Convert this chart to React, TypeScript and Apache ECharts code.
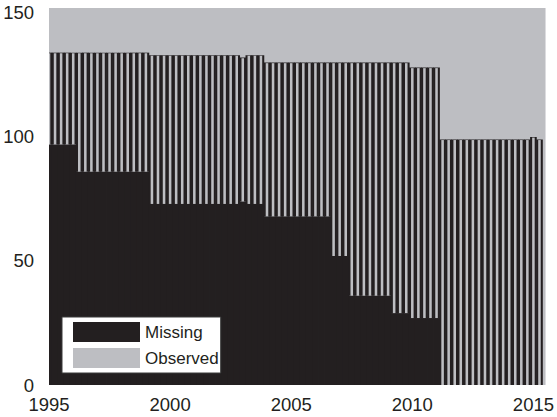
import React, { useEffect, useRef } from "react";
import * as echarts from "echarts";

// Quarterly time stamps (bar centres, in years)
const quarters: number[] = [
  1995, 1995.25, 1995.5, 1995.75, 1996, 1996.25, 1996.5, 1996.75,
  1997, 1997.25, 1997.5, 1997.75, 1998, 1998.25, 1998.5, 1998.75,
  1999, 1999.25, 1999.5, 1999.75, 2000, 2000.25, 2000.5, 2000.75,
  2001, 2001.25, 2001.5, 2001.75, 2002, 2002.25, 2002.5, 2002.75,
  2003, 2003.25, 2003.5, 2003.75, 2004, 2004.25, 2004.5, 2004.75,
  2005, 2005.25, 2005.5, 2005.75, 2006, 2006.25, 2006.5, 2006.75,
  2007, 2007.25, 2007.5, 2007.75, 2008, 2008.25, 2008.5, 2008.75,
  2009, 2009.25, 2009.5, 2009.75, 2010, 2010.25, 2010.5, 2010.75,
  2011, 2011.25, 2011.5, 2011.75, 2012, 2012.25, 2012.5, 2012.75,
  2013, 2013.25, 2013.5, 2013.75, 2014, 2014.25, 2014.5, 2014.75,
  2015, 2015.25,
];

const missing: number[] = [
  97, 97, 97, 97, 97, 86, 86, 86,
  86, 86, 86, 86, 86, 86, 86, 86,
  86, 73, 73, 73, 73, 73, 73, 73,
  73, 73, 73, 73, 73, 73, 73, 73,
  74, 73, 73, 73, 68, 68, 68, 68,
  68, 68, 68, 68, 68, 68, 68, 52,
  52, 52, 36, 36, 36, 36, 36, 36,
  36, 29, 29, 29, 27, 27, 27, 27,
  27, 0, 0, 0, 0, 0, 0, 0,
  0, 0, 0, 0, 0, 0, 0, 0,
  0, 0,
];

const observed: number[] = [
  37, 37, 37, 37, 37, 48, 48, 48,
  48, 48, 48, 48, 48, 48, 48, 48,
  48, 60, 60, 60, 60, 60, 60, 60,
  60, 60, 60, 60, 60, 60, 60, 60,
  58, 60, 60, 60, 62, 62, 62, 62,
  62, 62, 62, 62, 62, 62, 62, 78,
  78, 78, 94, 94, 94, 94, 94, 94,
  94, 101, 101, 101, 101, 101, 101, 101,
  101, 99, 99, 99, 99, 99, 99, 99,
  99, 99, 99, 99, 99, 99, 99, 99,
  100, 99,
];

const yTicks = [0, 50, 100, 150];
const xTicks = [1995, 2000, 2005, 2010, 2015];

const BLACK = "#231f20";
const GRAY = "#bdbec2";
const FONT = "'Liberation Sans', Arial, Helvetica, sans-serif";

export default function App() {
  const ref = useRef<HTMLDivElement>(null);
  useEffect(() => {
    if (!ref.current) return;
    const chart = echarts.init(ref.current, undefined, { renderer: "svg" });
    const data = quarters.map((q, i) => [q, missing[i], observed[i]]);
    const clipX = (a: number, b: number, cs: any) => {
      const l = Math.max(a, cs.x);
      const r = Math.min(b, cs.x + cs.width);
      return [l, Math.max(0, r - l)];
    };
    chart.setOption({
      animation: false,
      grid: {
        left: 49,
        right: 11,
        top: 8,
        bottom: 32,
        show: true,
        backgroundColor: GRAY,
        borderWidth: 0,
      },
      xAxis: {
        type: "value",
        min: 1995,
        max: 2015.5,
        interval: 5,
        axisLine: { show: false },
        axisTick: { show: false },
        splitLine: { show: false },
        axisLabel: {
          margin: 10,
          fontSize: 18.5,
          fontFamily: FONT,
          color: BLACK,
          showMaxLabel: true,
          formatter: (v: number) => (xTicks.indexOf(v) >= 0 ? String(v) : ""),
        },
      },
      yAxis: {
        type: "value",
        min: 0,
        max: 152,
        interval: 50,
        axisLine: { show: false },
        axisTick: { show: false },
        splitLine: { show: false },
        axisLabel: {
          margin: 15,
          fontSize: 18.5,
          fontFamily: FONT,
          color: BLACK,
          formatter: (v: number) => (yTicks.indexOf(v) >= 0 ? String(v) : ""),
        },
      },
      legend: {
        orient: "vertical",
        left: 62,
        top: 317,
        backgroundColor: "#ffffff",
        borderColor: "#3a3a3a",
        borderWidth: 1,
        padding: [5, 2, 5, 11],
        itemWidth: 67,
        itemHeight: 20,
        itemGap: 6,
        itemTextGap: 5,
        textStyle: { fontSize: 17, fontFamily: FONT, color: BLACK },
        data: [
          { name: "Missing", icon: "rect", itemStyle: { color: BLACK } },
          { name: "Observed", icon: "rect", itemStyle: { color: GRAY } },
        ],
      },
      series: [
        {
          name: "Missing",
          type: "custom",
          itemStyle: { color: BLACK },
          data,
          renderItem: (params: any, api: any) => {
            const t = api.value(0);
            const m = api.value(1);
            const cs = params.coordSys;
            const w = api.size([0.25, 0])[0];
            const p0 = api.coord([t, 0]);
            const pm = api.coord([t, m]);
            const [x, width] = clipX(p0[0] - w / 2 - 0.4, p0[0] + w / 2 + 0.4, cs);
            return {
              type: "rect",
              shape: { x, y: pm[1], width, height: p0[1] - pm[1] },
              style: { fill: BLACK },
            };
          },
        },
        {
          name: "Observed",
          type: "custom",
          itemStyle: { color: GRAY },
          data,
          renderItem: (params: any, api: any) => {
            const t = api.value(0);
            const m = api.value(1);
            const o = api.value(2);
            const cs = params.coordSys;
            const w = api.size([0.25, 0])[0];
            const pm = api.coord([t, m]);
            const pt = api.coord([t, m + o]);
            const e = 1.75;
            const [bx, bw] = clipX(pm[0] - w / 2 - 0.3, pm[0] + w / 2 + 0.3, cs);
            const [gx, gw] = clipX(pm[0] - w / 2 + e, pm[0] + w / 2 - e, cs);
            return {
              type: "group",
              children: [
                {
                  type: "rect",
                  shape: { x: bx, y: pt[1], width: bw, height: pm[1] - pt[1] },
                  style: { fill: BLACK },
                },
                {
                  type: "rect",
                  shape: { x: gx, y: pt[1] + 0.6, width: gw, height: pm[1] - pt[1] - 0.6 },
                  style: { fill: GRAY },
                },
              ],
            };
          },
        },
      ],
    });
    return () => chart.dispose();
  }, []);
  return (
    <div
      ref={ref}
      style={{ position: "absolute", left: 0, top: 0, width: 557, height: 417 }}
    />
  );
}
